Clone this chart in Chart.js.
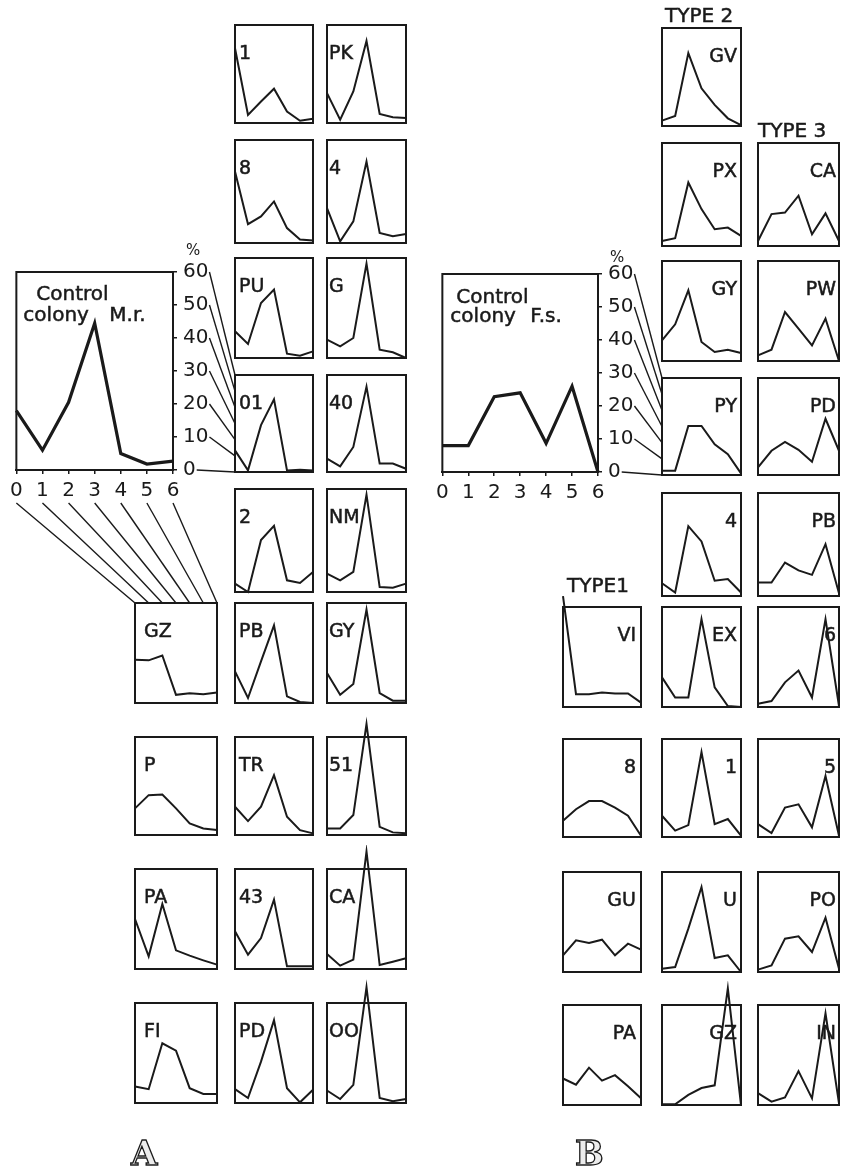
<!DOCTYPE html>
<html>
<head>
<meta charset="utf-8">
<script src="https://cdn.jsdelivr.net/npm/chart.js@4.4.1/dist/chart.umd.min.js"></script>
<style>
  body { margin: 0; background: #fff; width: 846px; height: 1172px; position: relative; overflow: hidden; }
  canvas { position: absolute; }
  #overlay { left: 0; top: 0; z-index: 5; pointer-events: none; }
</style>
</head>
<body>
<canvas id="overlay" width="846" height="1172"></canvas>
<script>
// hours after treatment (x categories) and % ticks
const hours = ['0', '1', '2', '3', '4', '5', '6'];
const percentTicks = [0, 10, 20, 30, 40, 50, 60];

// control colonies
const controlMr = [18, 6, 20.5, 44.5, 5, 1.8, 2.7];
const controlFs = [8, 8, 22.8, 24, 8.7, 26, 0];

// A - left column (starts at row 6)
const colA3Labels = ['GZ', 'P', 'PA', 'FI'];
const colA3Values = [
    [26, 25.6, 28.5, 4.9, 5.9, 5.3, 6.3],
    [16.3, 24.4, 24.8, 16.3, 7.1, 4, 3],
    [30, 7.6, 39, 11.2, 8, 5.2, 2.6],
    [9.9, 8.3, 35.8, 31.4, 8.9, 5.4, 5.4]
];

// A - middle column
const colA1Labels = ['1', '8', 'PU', '01', '2', 'PB', 'TR', '43', 'PD'];
const colA1Values = [
    [45.8, 5, 13.2, 21, 7, 1.4, 2.6],
    [41.6, 11, 15.5, 24.2, 8.7, 2, 1.4],
    [16, 8.4, 33, 41, 2.6, 1.4, 4],
    [13.4, 1, 29, 45, 1, 1.4, 1],
    [4.9, 0, 30.3, 38.5, 6.8, 5.3, 11.7],
    [19, 3, 25, 46.6, 4, 0.6, 0],
    [17.3, 8.5, 17.3, 36.6, 11.2, 3, 1],
    [22.6, 8.6, 18.6, 41.6, 1.6, 1.6, 1.6],
    [8.3, 3, 24.8, 49.7, 8.9, 0.4, 7.9]
];

// A - right column
const colA2Labels = ['PK', '4', 'G', '40', 'NM', 'GY', '51', 'CA', 'OO'];
const colA2Values = [
    [18.3, 2, 19.3, 50.2, 5.5, 3.5, 3],
    [20.3, 1, 12.6, 47.4, 5.8, 3.9, 5.2],
    [11, 7, 12, 56.6, 5, 3.4, 0],
    [8.3, 3.5, 15.5, 52.8, 5.2, 5.2, 2],
    [10.7, 6.8, 11.7, 56.7, 2.9, 2.5, 4.9],
    [18, 5, 11.4, 56, 6, 1.4, 1.4],
    [4, 4, 12.2, 68, 5, 1.6, 1],
    [9, 2, 5.6, 70.5, 2.4, 4.4, 6.4],
    [7.5, 2.4, 10.9, 69.5, 3, 1, 2.4]
];

// B - type 1 (starts at row 6)
const type1Labels = ['VI', '8', 'GU', 'PA'];
const type1Values = [
    [66.5, 7.7, 7.7, 8.7, 8.1, 8.1, 2.6],
    [10, 17, 22, 22, 18, 13, 0.8],
    [10, 19, 17.4, 19.4, 10, 17, 13.4],
    [15.9, 12.2, 22.4, 14.6, 17.9, 11.2, 4]
];

// B - type 2
const type2Labels = ['GV', 'PX', 'GY', 'PY', '4', 'EX', '1', 'U', 'GZ'];
const type2Values = [
    [3.3, 6.1, 44.6, 23.1, 12.9, 4.7, 0.6],
    [2.9, 4.5, 37, 21.5, 9.8, 10.7, 5.9],
    [12.4, 22, 42.4, 11.4, 5.4, 6.8, 4.8],
    [2.7, 2.7, 30.3, 30.3, 19, 12.9, 1],
    [7.4, 2, 40.7, 31.8, 8.9, 9.9, 2],
    [17.8, 5.7, 5.7, 52.7, 11.8, 0.6, 0],
    [13, 3.9, 7.3, 52, 7.9, 11, 0.8],
    [2, 3, 26, 51, 8.4, 10, 0],
    [0.4, 0.4, 6.1, 10.2, 11.8, 70, 0]
];

// B - type 3 (starts at row 2)
const type3Labels = ['CA', 'PW', 'PD', 'PB', '6', '5', 'PO', 'IN'];
const type3Values = [
    [2.9, 18.6, 19.5, 29.3, 6.8, 19, 2.9],
    [3.4, 6.8, 29.4, 19.4, 9.4, 25.4, 0],
    [4.7, 15, 20.5, 15.6, 8.2, 34.8, 15],
    [7.9, 7.9, 19.5, 14.9, 12.3, 30.2, 1.6],
    [2, 3.6, 14.8, 21.9, 5.7, 52.7, 0.6],
    [7.9, 2.4, 18, 20, 5.9, 37.3, 0.8],
    [1.4, 4, 20, 21.4, 12, 32.6, 2],
    [7.1, 2, 4.5, 20.3, 4, 55, 1]
];

const INK = '#1a1a1a';
const FONT = "'DejaVu Sans', sans-serif";

// page layout
const rowTopsA = [25, 140, 258, 375, 489, 603, 737, 869, 1003];
const rowTopsB = [28, 143, 261, 378, 493, 607, 739, 872, 1005];
const rowHeights = [98, 103, 100, 97, 103, 100, 98, 100, 100];

// draws the box around the plot area and the strain name
const panelFrame = {
    id: 'panelFrame',
    beforeDatasetsDraw(chart, args, opts) {
        const { ctx, chartArea: a } = chart;
        ctx.save();
        ctx.strokeStyle = INK;
        ctx.lineWidth = opts.lineWidth || 2;
        ctx.strokeRect(a.left, a.top, a.right - a.left, a.bottom - a.top);
        ctx.fillStyle = INK;
        ctx.lineWidth = 0.5;
        (opts.texts || []).forEach(t => {
            ctx.font = t.font;
            ctx.textAlign = t.align;
            const x = t.align === 'left' ? a.left + t.dx : a.right - t.dx;
            ctx.fillText(t.text, x, a.top + t.dy);
            ctx.strokeText(t.text, x, a.top + t.dy);
        });
        ctx.restore();
    }
};

function makePanel(label, values, box, align, dx) {
    const pad = { left: 4, right: 4, top: 24, bottom: 4 };
    const c = document.createElement('canvas');
    c.width = box.w + pad.left + pad.right;
    c.height = box.h + pad.top + pad.bottom;
    c.style.left = (box.x - pad.left) + 'px';
    c.style.top = (box.y - pad.top) + 'px';
    document.body.appendChild(c);
    return new Chart(c, {
        type: 'line',
        data: {
            labels: hours,
            datasets: [{
                data: values,
                borderColor: INK,
                borderWidth: 2,
                pointRadius: 0,
                tension: 0,
                clip: false
            }]
        },
        options: {
            responsive: false,
            animation: false,
            events: [],
            layout: { padding: pad },
            plugins: {
                legend: { display: false },
                tooltip: { enabled: false },
                panelFrame: {
                    texts: [{ text: label, font: '19px ' + FONT, align: align, dx: dx, dy: 34 }]
                }
            },
            scales: {
                x: { display: false, offset: false },
                y: { display: false, min: 0, max: 60 }
            }
        },
        plugins: [panelFrame]
    });
}

function buildColumn(labels, values, x, w, tops, firstRow, align, dx) {
    return labels.map((lab, i) => makePanel(lab, values[i], {
        x: x, y: tops[firstRow + i], w: w, h: rowHeights[firstRow + i]
    }, align, dx));
}

function makeControl(values, box, texts) {
    const pad = { left: 8, right: 4, top: 32, bottom: 2 };
    const axisW = 45, axisH = 35;
    const c = document.createElement('canvas');
    c.width = pad.left + box.w + axisW + pad.right;
    c.height = pad.top + box.h + axisH + pad.bottom;
    c.style.left = (box.x - pad.left) + 'px';
    c.style.top = (box.y - pad.top) + 'px';
    document.body.appendChild(c);
    const axisStyle = {
        grid: { drawOnChartArea: false, tickLength: 4, color: INK, lineWidth: 1.5 },
        border: { display: true, color: INK, width: 2 }
    };
    return new Chart(c, {
        type: 'line',
        data: {
            labels: hours,
            datasets: [{
                data: values,
                borderColor: INK,
                borderWidth: 3.2,
                pointRadius: 0,
                tension: 0,
                clip: false
            }]
        },
        options: {
            responsive: false,
            animation: false,
            events: [],
            layout: { padding: pad },
            plugins: {
                legend: { display: false },
                tooltip: { enabled: false },
                panelFrame: { lineWidth: 2, texts: texts }
            },
            scales: {
                x: {
                    ...axisStyle,
                    offset: false,
                    ticks: { font: { family: FONT, size: 20 }, color: INK, padding: 5, maxRotation: 0, autoSkip: false },
                    afterFit: a => { a.height = axisH; }
                },
                y: {
                    ...axisStyle,
                    position: 'right',
                    min: 0,
                    max: 60,
                    ticks: { stepSize: 10, font: { family: FONT, size: 20 }, color: INK, padding: 6 },
                    afterFit: a => { a.width = axisW; }
                }
            }
        },
        plugins: [panelFrame]
    });
}

// panel A
const mr = makeControl(controlMr, { x: 13, y: 272, w: 160, h: 198 }, [
    { text: 'Control', font: '20px ' + FONT, align: 'left', dx: 20, dy: 28 },
    { text: 'colony', font: '20px ' + FONT, align: 'left', dx: 7, dy: 49 },
    { text: 'M.r.', font: '20px ' + FONT, align: 'left', dx: 93, dy: 49 }
]);
const colA3 = buildColumn(colA3Labels, colA3Values, 135, 82, rowTopsA, 5, 'left', 9);
const colA1 = buildColumn(colA1Labels, colA1Values, 235, 78, rowTopsA, 0, 'left', 4);
const colA2 = buildColumn(colA2Labels, colA2Values, 327, 79, rowTopsA, 0, 'left', 2);

// panel B
const fs = makeControl(controlFs, { x: 439, y: 274, w: 159, h: 198 }, [
    { text: 'Control', font: '20px ' + FONT, align: 'left', dx: 14, dy: 29 },
    { text: 'colony', font: '20px ' + FONT, align: 'left', dx: 8, dy: 48 },
    { text: 'F.s.', font: '20px ' + FONT, align: 'left', dx: 88, dy: 48 }
]);
const type1 = buildColumn(type1Labels, type1Values, 563, 78, rowTopsB, 5, 'right', 5);
const type2 = buildColumn(type2Labels, type2Values, 662, 79, rowTopsB, 0, 'right', 4);
const type3 = buildColumn(type3Labels, type3Values, 758, 81, rowTopsB, 1, 'right', 3);

// leader lines and free text, placed from the charts' own scales
const ov = document.getElementById('overlay').getContext('2d');
const px = (ch, v) => ch.canvas.offsetLeft + ch.scales.x.getPixelForValue(v);
const py = (ch, v) => ch.canvas.offsetTop + ch.scales.y.getPixelForValue(v);
const areaLeft = ch => ch.canvas.offsetLeft + ch.chartArea.left;
const areaRight = ch => ch.canvas.offsetLeft + ch.chartArea.right;
const areaTop = ch => ch.canvas.offsetTop + ch.chartArea.top;
const areaBottom = ch => ch.canvas.offsetTop + ch.chartArea.bottom;

ov.strokeStyle = INK;
ov.lineWidth = 1.4;
ov.font = '20px ' + FONT;

function yLeaders(ctrl, target) {
    percentTicks.forEach(v => {
        const sx = areaRight(ctrl) + 4 + 6 + ov.measureText(String(v)).width + 1;
        ov.beginPath();
        ov.moveTo(sx, py(ctrl, v));
        ov.lineTo(areaLeft(target), py(target, v));
        ov.stroke();
    });
}
yLeaders(mr, colA1[3]);
yLeaders(fs, type2[3]);

hours.forEach((h, i) => {
    ov.beginPath();
    ov.moveTo(px(mr, i), areaBottom(mr) + 33);
    ov.lineTo(px(colA3[0], i), areaTop(colA3[0]));
    ov.stroke();
});

ov.fillStyle = INK;
ov.font = '15px ' + FONT;
ov.fillText('%', areaRight(mr) + 13, areaTop(mr) - 17);
ov.fillText('%', areaRight(fs) + 12, areaTop(fs) - 12);

ov.font = '20px ' + FONT;
ov.lineWidth = 0.5;
[['TYPE 2', 665, 22], ['TYPE 3', 758, 137], ['TYPE1', 567, 592]].forEach(([t, x, y]) => {
    ov.fillText(t, x, y);
    ov.strokeText(t, x, y);
});

ov.font = "bold 34px 'DejaVu Serif', serif";
ov.lineWidth = 1.3;
ov.fillStyle = '#ececec';
[['A', 131, 1165], ['B', 575, 1165]].forEach(([t, x, y]) => {
    ov.fillText(t, x, y);
    ov.strokeText(t, x, y);
});
</script>
</body>
</html>
